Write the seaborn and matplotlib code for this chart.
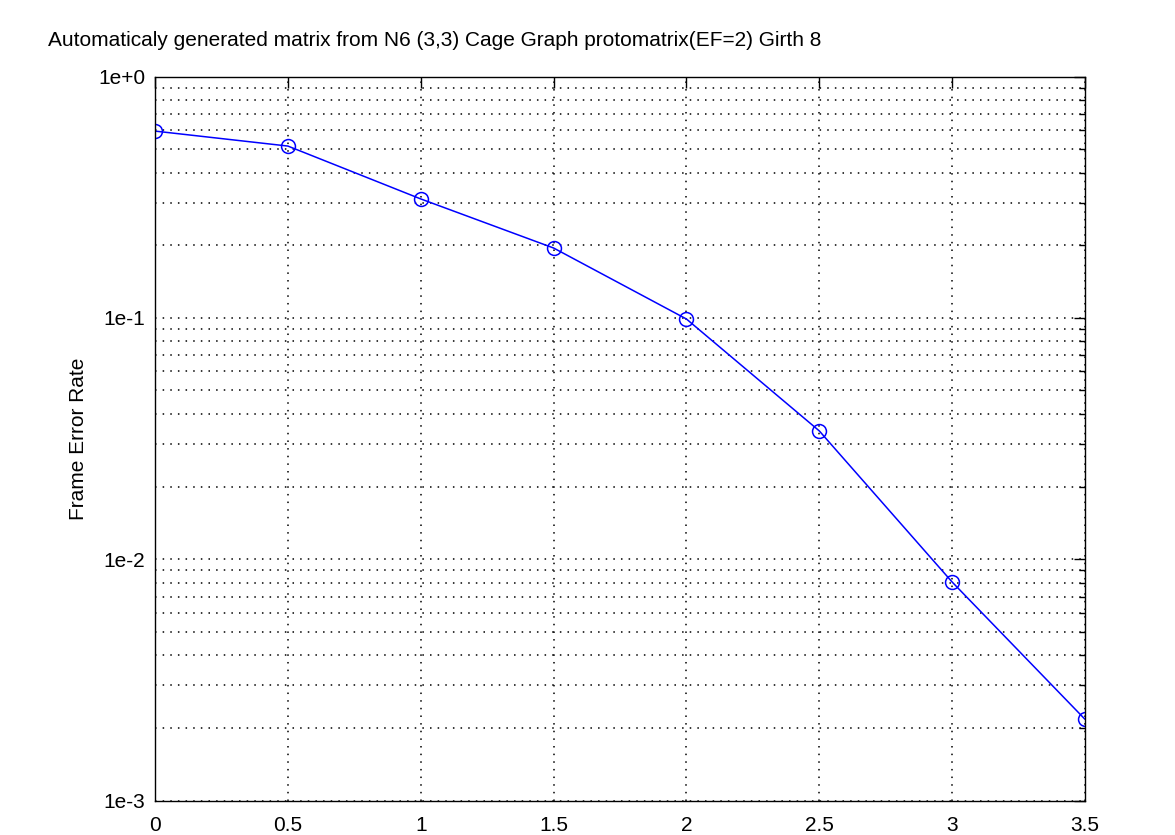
import matplotlib
matplotlib.use("Agg")
import matplotlib.pyplot as plt
import seaborn as sns
import pandas as pd
import numpy as np
from matplotlib.ticker import LogLocator, FixedLocator, FuncFormatter, NullFormatter

snr = [0, 0.5, 1, 1.5, 2, 2.5, 3, 3.5]
fer = [0.594, 0.515, 0.311, 0.1947, 0.0989, 0.0340, 0.00804, 0.00217]
xticks = [0, 0.5, 1, 1.5, 2, 2.5, 3, 3.5]
xticklabels = ["0", "0.5", "1", "1.5", "2", "2.5", "3", "3.5"]
yticklabels = {0: "1e+0", -1: "1e-1", -2: "1e-2", -3: "1e-3"}
title = "Automaticaly generated matrix from N6 (3,3) Cage Graph protomatrix(EF=2) Girth 8"
ylabel = "Frame Error Rate"

df = pd.DataFrame({"snr": snr, "fer": fer})

sns.set_style("white")
plt.rcParams['font.family'] = ['Liberation Sans', 'DejaVu Sans']
plt.rcParams['text.color'] = 'black'
plt.rcParams['axes.labelcolor'] = 'black'

fig = plt.figure(figsize=(11.75, 8.35), dpi=100)
ax = fig.add_axes([155/1175, 1 - 800.5/835, 930/1175, 724/835])

sns.lineplot(data=df, x="snr", y="fer", ax=ax, color="#0000ff", lw=1.1,
             marker="o", markersize=10, markerfacecolor="none",
             markeredgecolor="#0000ff", markeredgewidth=1.1)

ax.set_yscale("log")
ax.set_xlim(0, 3.5)
ax.set_ylim(1e-3, 1)
ax.xaxis.set_major_locator(FixedLocator(xticks))
ax.set_xticklabels(xticklabels)
ax.yaxis.set_major_locator(LogLocator(base=10, numticks=10))
ax.yaxis.set_minor_locator(LogLocator(base=10, subs=np.arange(2, 10), numticks=20))
ax.yaxis.set_major_formatter(FuncFormatter(lambda v, p: yticklabels.get(int(round(np.log10(v))), "")))
ax.yaxis.set_minor_formatter(NullFormatter())

gridkw = dict(color="black", linestyle=(0, (1, 4)), linewidth=1.1)
ax.grid(True, which="major", axis="both", **gridkw)
ax.grid(True, which="minor", axis="y", **gridkw)

ax.tick_params(which="both", direction="in", top=True, right=True, labelsize=15,
               colors="black", labelcolor="black")
ax.tick_params(axis="x", pad=11)
ax.tick_params(axis="y", pad=7)
ax.tick_params(which="major", length=8, width=1)
ax.tick_params(which="minor", length=4, width=1)
for s in ax.spines.values():
    s.set_visible(True)
    s.set_color("black")
    s.set_linewidth(1.0)

ax.set_xlabel("")
ax.set_ylabel(ylabel, fontsize=15, labelpad=7.5, color="black")
fig.text(48/1175, 1 - 40/835, title, fontsize=15, ha="left", va="center", color="black")

fig.savefig("out.png", dpi=100, facecolor="white")
